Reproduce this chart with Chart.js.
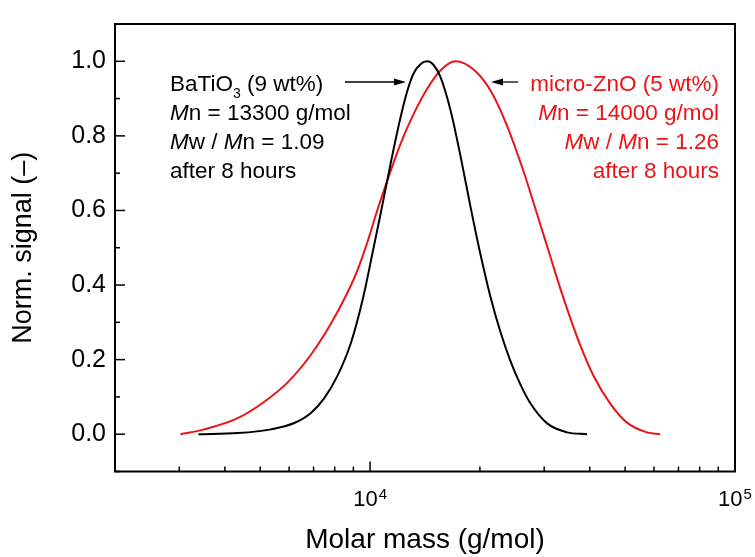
<!DOCTYPE html>
<html>
<head>
<meta charset="utf-8">
<title>GPC traces</title>
<script src="https://cdn.jsdelivr.net/npm/chart.js@4.4.1/dist/chart.umd.min.js"></script>
<style>
  body { margin: 0; background: #fff; }
  #wrap { width: 755px; height: 557px; position: relative; }
</style>
</head>
<body>
<div id="wrap"><canvas id="gpc_chart"></canvas></div>
<script>
// BaTiO3 (9 wt%) trace
const batio_mass = [3386, 4340, 5353, 6197, 6884, 7484, 8144, 8856, 9533, 10255, 10697, 11392,
  12056, 12600, 13167, 13761, 14353, 14934, 15607, 16620, 17700, 18855, 20080, 21380,
  22770, 24250, 25828, 27500, 30560, 34660, 39320];
const batio_signal = [0, 0.003, 0.013, 0.030, 0.057, 0.096, 0.157, 0.244, 0.359, 0.506, 0.593, 0.727,
  0.840, 0.915, 0.968, 0.993, 1.0, 0.990, 0.957, 0.868, 0.745, 0.609, 0.481, 0.368,
  0.274, 0.196, 0.133, 0.083, 0.029, 0.005, 0];

// micro-ZnO (5 wt%) trace
const zno_mass = [3023, 3516, 4339, 5131, 5945, 6884, 7808, 8674, 9238, 9838, 10477, 11039,
  12133, 13167, 14353, 15607, 17154, 19248, 21517, 23753, 26370, 28691, 30231, 32541,
  35008, 37683, 40975, 45518, 50567, 57353, 62362];
const zno_signal = [0, 0.013, 0.043, 0.087, 0.139, 0.213, 0.296, 0.380, 0.440, 0.516, 0.602, 0.668,
  0.780, 0.859, 0.927, 0.976, 1.0, 0.977, 0.917, 0.826, 0.703, 0.590, 0.519, 0.418,
  0.324, 0.238, 0.156, 0.082, 0.031, 0.005, 0];

// axes
const x_ticks = [2000, 3000, 4000, 5000, 6000, 7000, 8000, 9000, 10000,
  20000, 30000, 40000, 50000, 60000, 70000, 80000, 90000, 100000];
const x_labels = [10000, 100000];
const y_labels = [0, 0.2, 0.4, 0.6, 0.8, 1.0];

// annotation text (i = italic, sub = subscript)
const batio_text = [
  [{t: 'BaTiO'}, {t: '3', sub: true}, {t: ' (9 wt%)'}],
  [{t: 'M', i: true}, {t: 'n = 13300 g/mol'}],
  [{t: 'M', i: true}, {t: 'w / '}, {t: 'M', i: true}, {t: 'n = 1.09'}],
  [{t: 'after 8 hours'}]
];
const zno_text = [
  [{t: 'micro-ZnO (5 wt%)'}],
  [{t: 'M', i: true}, {t: 'n = 14000 g/mol'}],
  [{t: 'M', i: true}, {t: 'w / '}, {t: 'M', i: true}, {t: 'n = 1.26'}],
  [{t: 'after 8 hours'}]
];

const RED = 'rgb(235,20,25)';
const FONT = '"Liberation Sans", Arial, sans-serif';

Chart.defaults.font.family = FONT;
Chart.defaults.color = '#000';

function segFont(s) {
  return (s.i ? 'italic ' : '') + (s.sub ? 14 : 22.5) + 'px ' + FONT;
}

function drawRich(ctx, segs, x, y, align) {
  let w = 0;
  segs.forEach(s => { ctx.font = segFont(s); w += ctx.measureText(s.t).width; });
  let cx = align === 'right' ? x - w : x;
  segs.forEach(s => {
    ctx.font = segFont(s);
    ctx.fillText(s.t, cx, y + (s.sub ? 7 : 0));
    cx += ctx.measureText(s.t).width;
  });
}

function arrow(ctx, x0, x1, y) {
  // shaft from x0 to the tip at x1
  const dir = x1 > x0 ? 1 : -1;
  ctx.beginPath();
  ctx.moveTo(x0, y);
  ctx.lineTo(x1 - dir * 10, y);
  ctx.stroke();
  ctx.beginPath();
  ctx.moveTo(x1, y);
  ctx.lineTo(x1 - dir * 12, y - 3.5);
  ctx.lineTo(x1 - dir * 12, y + 3.5);
  ctx.closePath();
  ctx.fill();
}

const frame_plugin = {
  id: 'frame',
  afterDraw(chart) {
    const ctx = chart.ctx;
    const a = chart.chartArea;
    const xs = chart.scales.x, ys = chart.scales.y;
    ctx.save();
    ctx.strokeStyle = '#000';
    ctx.lineWidth = 1.5;

    // inward ticks, bottom axis
    x_ticks.forEach(v => {
      const px = xs.getPixelForValue(v);
      const major = x_labels.includes(v);
      ctx.beginPath();
      ctx.moveTo(px, a.bottom);
      ctx.lineTo(px, a.bottom - (major ? 10 : 5));
      ctx.stroke();
    });
    // inward ticks, left axis
    ys.ticks.forEach(t => {
      const py = ys.getPixelForValue(t.value);
      const k = Math.round(t.value * 10);
      ctx.beginPath();
      ctx.moveTo(a.left, py);
      ctx.lineTo(a.left + (k % 2 === 0 ? 10 : 5), py);
      ctx.stroke();
    });

    // frame
    ctx.lineWidth = 2;
    ctx.strokeRect(a.left, a.top, a.right - a.left, a.bottom - a.top);

    // x tick labels as 10^n
    ctx.fillStyle = '#000';
    ctx.textBaseline = 'alphabetic';
    ctx.textAlign = 'left';
    x_labels.forEach(v => {
      const px = xs.getPixelForValue(v);
      const exp = String(Math.round(Math.log10(v)));
      ctx.font = '22px ' + FONT;
      const w10 = ctx.measureText('10').width;
      ctx.font = '15px ' + FONT;
      const we = ctx.measureText(exp).width;
      const x0 = px - (w10 + we + 1) / 2;
      ctx.font = '22px ' + FONT;
      ctx.fillText('10', x0, 506);
      ctx.font = '15px ' + FONT;
      ctx.fillText(exp, x0 + w10 + 1, 499);
    });

    // annotations
    const base = [91, 120, 149, 178];
    ctx.fillStyle = '#000';
    batio_text.forEach((segs, n) => drawRich(ctx, segs, 170, base[n], 'left'));
    ctx.fillStyle = RED;
    zno_text.forEach((segs, n) => drawRich(ctx, segs, 719, base[n], 'right'));

    ctx.lineWidth = 1.3;
    ctx.strokeStyle = '#000';
    ctx.fillStyle = '#000';
    arrow(ctx, 345, 406, 82);
    arrow(ctx, 518, 491, 82);
    ctx.restore();
  }
};

const ctx = document.getElementById('gpc_chart').getContext('2d');

new Chart(ctx, {
  type: 'line',
  data: {
    datasets: [{
      label: 'BaTiO3 (9 wt%)',
      data: batio_mass.map((m, i) => ({x: m, y: batio_signal[i]})),
      borderColor: '#000',
      borderWidth: 2,
      pointRadius: 0,
      cubicInterpolationMode: 'monotone'
    }, {
      label: 'micro-ZnO (5 wt%)',
      data: zno_mass.map((m, i) => ({x: m, y: zno_signal[i]})),
      borderColor: RED,
      borderWidth: 2,
      pointRadius: 0,
      cubicInterpolationMode: 'monotone'
    }]
  },
  options: {
    responsive: true,
    maintainAspectRatio: false,
    animation: false,
    layout: { padding: { top: 13, right: 20, left: 0, bottom: 0 } },
    plugins: {
      legend: { display: false },
      tooltip: { enabled: false }
    },
    scales: {
      x: {
        type: 'logarithmic',
        min: 2000,
        max: 100000,
        grid: { display: false, drawTicks: false, tickLength: 0 },
        border: { display: false },
        ticks: { display: false, autoSkip: false },
        title: {
          display: true,
          text: 'Molar mass (g/mol)',
          font: { size: 28 },
          padding: { top: 0, bottom: 0 }
        },
        afterFit(scale) { scale.height = 85.5; }
      },
      y: {
        min: -0.1,
        max: 1.1,
        grid: { display: false, drawTicks: false, tickLength: 0 },
        border: { display: false },
        ticks: {
          stepSize: 0.1,
          autoSkip: false,
          padding: 9,
          font: { size: 25 },
          callback(value) {
            const k = Math.round(value * 10);
            return y_labels.some(v => Math.round(v * 10) === k) ? (k / 10).toFixed(1) : '';
          }
        },
        title: {
          display: true,
          text: 'Norm. signal (–)',
          font: { size: 27 },
          padding: { top: 7, bottom: 0 }
        },
        afterFit(scale) { scale.width = 115; }
      }
    }
  },
  plugins: [frame_plugin]
});
</script>
</body>
</html>
